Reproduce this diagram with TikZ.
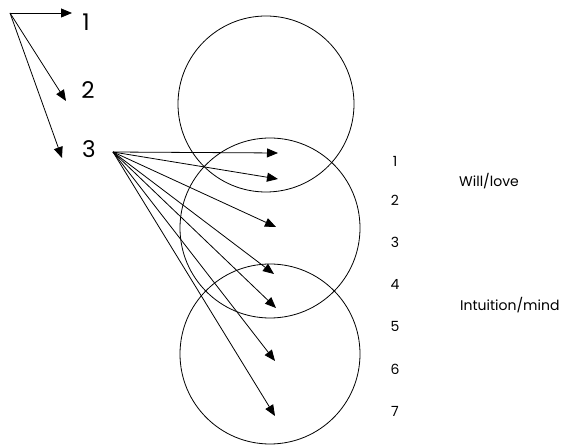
\documentclass[tikz,border=0pt]{standalone}
\usepackage{fontspec}
\setmainfont{Poppins}
\usetikzlibrary{arrows.meta,positioning}
\tikzset{
  ray/.style   ={-{Triangle[length=11pt,width=9pt]},draw=black,line width=0.8pt},
  ring/.style  ={draw=black,line width=0.8pt},
  big/.style   ={font=\fontsize{23}{26}\selectfont,inner sep=0pt},
  num/.style   ={font=\fontsize{14}{16}\selectfont,inner sep=0pt},
  lbl/.style   ={font=\fontsize{14}{16}\selectfont,inner sep=0pt,anchor=west},
}
\begin{document}
\begin{tikzpicture}[x=1pt,y=1pt]
\useasboundingbox (0,0) rectangle (574,-446);

% the three circles
\draw[ring] (266,-104) circle (88);
\draw[ring] (270,-228) circle (90);
\draw[ring] (270,-354) circle (90);

% left fan
\coordinate (o) at (10,-13);
\node[big] (n1) at (86,-22) {1};
\node[big] (n2) at (88,-90) {2};
\node[big] (n3) at (89,-149) {3};
\coordinate (a1) at (72,-13);
\coordinate (a2) at (66,-101);
\coordinate (a3) at (62,-158);
\foreach \t in {a1,a2,a3}{
  \draw[ray] (o) -- (\t);
}

% fan from 3
\coordinate (f) at (113,-152);
\foreach \i/\x/\y in {1/278/-153, 2/278/-179, 3/276/-227, 4/274/-274,
                      5/276/-308, 6/275/-361, 7/275/-416}{
  \coordinate (t\i) at (\x,\y);
  \draw[ray] (f) -- (t\i);
}

% level numbers
\foreach \i/\y in {1/-161, 2/-200, 3/-242, 4/-284, 5/-326, 6/-369, 7/-411}{
  \node[num] (r\i) at (395,\y) {\i};
}

\node[lbl] (will) at (459,-181) {Will/love};
\node[lbl] (mind) at (460,-305) {Intuition/mind};
\end{tikzpicture}
\end{document}
